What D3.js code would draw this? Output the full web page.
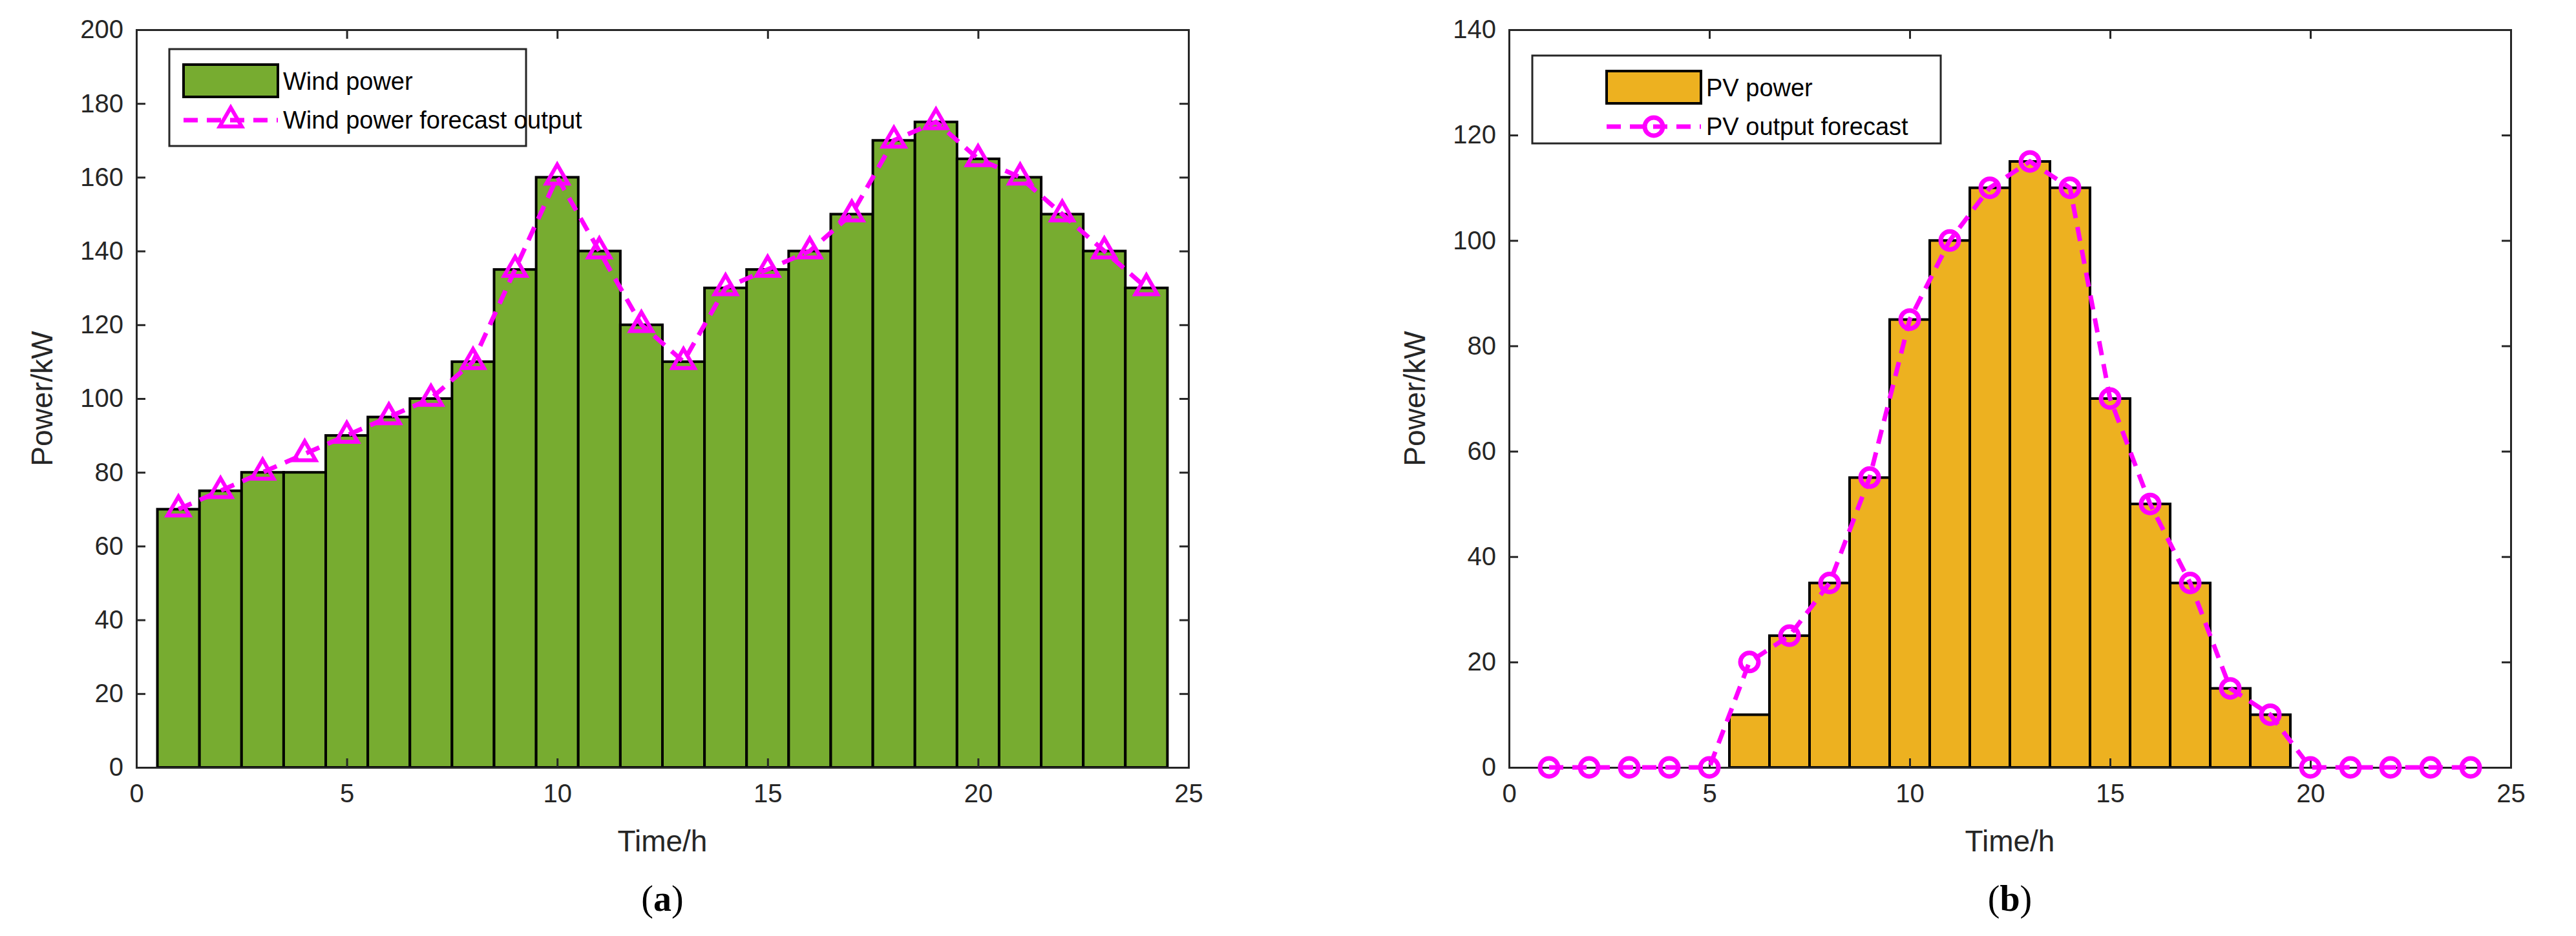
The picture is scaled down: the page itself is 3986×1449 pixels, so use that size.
<!DOCTYPE html>
<html><head><meta charset="utf-8">
<script src="https://cdn.jsdelivr.net/npm/d3@7"></script>
<style>body{margin:0;background:#fff}svg{display:block}</style>
</head><body>
<script>
const hours = d3.range(1, 25);
const windPower = [70,75,80,80,90,95,100,110,135,160,140,120,110,130,135,140,150,170,175,165,160,150,140,130];
const windForecast = [70,75,80,85,90,95,100,110,135,160,140,120,110,130,135,140,150,170,175,165,160,150,140,130];
const pvPower = [0,0,0,0,0,10,25,35,55,85,100,110,115,110,70,50,35,15,10,0,0,0,0,0];
const pvForecast = [0,0,0,0,0,20,25,35,55,85,100,110,115,110,70,50,35,15,10,0,0,0,0,0];
const xTicks = [0,5,10,15,20,25];
const windYTicks = [0,20,40,60,80,100,120,140,160,180,200];
const pvYTicks = [0,20,40,60,80,100,120,140];

const W = 3986, H = 1449;
const svg = d3.select("body").append("svg").attr("width", W).attr("height", H)
  .style("font-family", "'Liberation Sans', Arial, sans-serif");

function panel(o) {
  const x = d3.scaleLinear().domain([0,25]).range([o.x0, o.x1]);
  const y = d3.scaleLinear().domain([0,o.ymax]).range([o.y1, o.y0]);
  const g = svg.append("g");
  const bw = x(1) - x(0);
  g.selectAll("rect.bar").data(hours.filter((h,i)=>o.bars[i]>0)).join("rect")
    .attr("x", h => x(h - 0.5)).attr("width", bw)
    .attr("y", h => y(o.bars[h-1])).attr("height", h => y(0) - y(o.bars[h-1]))
    .attr("fill", o.color).attr("stroke", "#000").attr("stroke-width", 4);
  // axes (ticks inward)
  const ax = g.append("g").attr("transform", `translate(0,${o.y1})`)
    .call(d3.axisBottom(x).tickValues(xTicks).tickSize(-14).tickPadding(26));
  const axT = g.append("g").attr("transform", `translate(0,${o.y0})`)
    .call(d3.axisTop(x).tickValues(xTicks).tickSize(-14).tickFormat(""));
  const ay = g.append("g").attr("transform", `translate(${o.x0},0)`)
    .call(d3.axisLeft(y).tickValues(o.yticks).tickSize(-14).tickPadding(20));
  const ayR = g.append("g").attr("transform", `translate(${o.x1},0)`)
    .call(d3.axisRight(y).tickValues(o.yticks).tickSize(-14).tickFormat(""));
  [ax, axT, ay, ayR].forEach(a => {
    a.selectAll("path").attr("stroke", "#262626").attr("stroke-width", 3);
    a.selectAll("line").attr("stroke", "#262626").attr("stroke-width", 3);
    a.selectAll("text").attr("font-size", 40).attr("fill", "#262626");
  });
  const line = d3.line().x((d,i) => x(hours[i])).y(d => y(d));
  g.append("path").datum(o.fc).attr("d", line).attr("fill", "none")
    .attr("stroke", "#FF00FF").attr("stroke-width", 7).attr("stroke-dasharray", "22,14");
  const mk = g.selectAll("g.m").data(o.fc).join("g")
    .attr("transform", (d,i) => `translate(${x(hours[i])},${y(d)})`);
  drawMarker(mk, o.marker);
  g.append("text").attr("x", (o.x0+o.x1)/2).attr("y", o.y1 + 130).attr("text-anchor", "middle")
    .attr("font-size", 46).attr("fill", "#262626").text("Time/h");
  g.append("text").attr("transform", `translate(${o.x0 - 130},${(o.y0+o.y1)/2}) rotate(-90)`)
    .attr("text-anchor", "middle").attr("font-size", 46).attr("fill", "#262626").text("Power/kW");
  g.append("text").attr("x", (o.x0+o.x1)/2).attr("y", 1410).attr("text-anchor", "middle")
    .attr("font-family", "'Liberation Serif', 'Times New Roman', serif").attr("font-size", 56)
    .html(`(<tspan font-weight="bold">${o.cap}</tspan>)`);
  // legend
  const L = o.leg;
  const lg = g.append("g");
  lg.append("rect").attr("x", L.x).attr("y", L.y).attr("width", L.w).attr("height", L.h)
    .attr("fill", "#fff").attr("stroke", "#262626").attr("stroke-width", 3);
  lg.append("rect").attr("x", L.sx).attr("y", L.y + 24).attr("width", L.sw).attr("height", 50)
    .attr("fill", o.color).attr("stroke", "#000").attr("stroke-width", 4);
  lg.append("line").attr("x1", L.sx).attr("x2", L.sx + L.sw).attr("y1", L.y + 110).attr("y2", L.y + 110)
    .attr("stroke", "#FF00FF").attr("stroke-width", 7).attr("stroke-dasharray", "22,14");
  drawMarker(lg.append("g").attr("transform", `translate(${L.sx + L.sw/2},${L.y + 110})`), o.marker);
  lg.append("text").attr("x", L.sx + L.sw + 8).attr("y", L.y + 63).attr("font-size", 38).attr("fill", "#000").text(o.names[0]);
  lg.append("text").attr("x", L.sx + L.sw + 8).attr("y", L.y + 123).attr("font-size", 38).attr("fill", "#000").text(o.names[1]);
}
function drawMarker(sel, type) {
  if (type === "tri") {
    sel.append("path").attr("d", d3.symbol(d3.symbolTriangle, 500)())
      .attr("fill", "none").attr("stroke", "#FF00FF").attr("stroke-width", 6);
  } else {
    sel.append("circle").attr("r", 14).attr("fill", "none").attr("stroke", "#FF00FF").attr("stroke-width", 7);
  }
}
panel({x0:211, x1:1839, y0:46, y1:1188, ymax:200, yticks:windYTicks, bars:windPower, fc:windForecast,
  color:"#77AC30", marker:"tri", cap:"a", names:["Wind power","Wind power forecast output"],
  leg:{x:262, y:76, w:552, h:150, sx:284, sw:146}});
panel({x0:2335, x1:3885, y0:46, y1:1188, ymax:140, yticks:pvYTicks, bars:pvPower, fc:pvForecast,
  color:"#EDB120", marker:"circ", cap:"b", names:["PV power","PV output forecast"],
  leg:{x:2371, y:86, w:632, h:136, sx:2486, sw:146}});
</script>
</body></html>
